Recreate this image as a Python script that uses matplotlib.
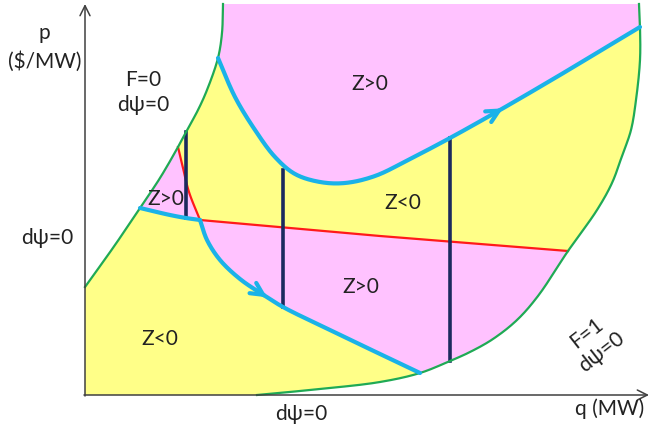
import numpy as np
import matplotlib.pyplot as plt

# boundary curves, in picture units (x right, y down)
green_left = [(223, 4), (222, 33), (218, 58), (207, 90), (198, 110), (186, 132),
              (178, 147), (160, 178), (140, 208), (115, 245), (85, 287)]
green_right = [(639, 4), (640, 27), (640, 60), (636, 100), (631, 130), (622, 156),
               (612, 183), (597, 210), (568, 251), (538, 296), (517, 320), (493, 339),
               (470, 352), (450, 361), (420, 373), (380, 382), (320, 389), (257, 395)]
cyan_upper = [(218, 58), (235, 97), (255, 130), (275, 157), (295, 174), (320, 182),
              (345, 183), (375, 176), (410, 159), (450, 138), (500, 110), (560, 75),
              (600, 51), (640, 27)]
cyan_lower_a = [(140, 208), (170, 215), (186, 218), (200, 220)]
cyan_lower_b = [(200, 220), (207, 240), (220, 260), (240, 279), (262, 294), (283, 307),
                (330, 330), (380, 354), (420, 373)]
red_curve = [(178, 147), (183, 168), (189, 192), (200, 220)]
red_line = [(200, 220), (380, 236), (568, 251)]
navy_x = [186, 283, 450]
navy_top = [132, 170, 138]
navy_bottom = [218, 307, 361]

labels = [
    ("p", 44, 33), ("($/MW)", 45, 62), ("F=0", 143, 80), ("dψ=0", 143, 105),
    ("Z>0", 370, 84), ("Z>0", 166, 199), ("Z<0", 403, 203), ("dψ=0", 47, 238),
    ("Z>0", 361, 287), ("Z<0", 160, 339), ("dψ=0", 301, 414), ("q (MW)", 610, 409),
]

PINK = '#ffc2ff'
YELLOW = '#ffff88'
GREEN = '#1faa55'
CYAN = '#1ab2e8'
NAVY = '#1b2a5e'
RED = '#ff1a1a'
N = 20


def smooth(pts, n=N):
    # centripetal Catmull-Rom; control point k lands at index k*n
    p = np.asarray(pts, float)
    ext = np.vstack([2 * p[0] - p[1], p, 2 * p[-1] - p[-2]])
    out = []
    for i in range(1, len(ext) - 2):
        P0, P1, P2, P3 = ext[i - 1], ext[i], ext[i + 1], ext[i + 2]
        t0 = 0.0
        t1 = t0 + np.linalg.norm(P1 - P0) ** 0.5
        t2 = t1 + np.linalg.norm(P2 - P1) ** 0.5
        t3 = t2 + np.linalg.norm(P3 - P2) ** 0.5
        t = np.linspace(t1, t2, n, endpoint=False)[:, None]
        A1 = (t1 - t) / (t1 - t0) * P0 + (t - t0) / (t1 - t0) * P1
        A2 = (t2 - t) / (t2 - t1) * P1 + (t - t1) / (t2 - t1) * P2
        A3 = (t3 - t) / (t3 - t2) * P2 + (t - t2) / (t3 - t2) * P3
        B1 = (t2 - t) / (t2 - t0) * A1 + (t - t0) / (t2 - t0) * A2
        B2 = (t3 - t) / (t3 - t1) * A2 + (t - t1) / (t3 - t1) * A3
        out.append((t2 - t) / (t2 - t1) * B1 + (t - t1) / (t2 - t1) * B2)
    out.append(p[-1:])
    return np.vstack(out)


gl = smooth(green_left)
gr = smooth(green_right)
cu = smooth(cyan_upper)
ca = smooth(cyan_lower_a)
cb = smooth(cyan_lower_b)
rc = smooth(red_curve)
rl = np.asarray(red_line, float)

fig = plt.figure(figsize=(6.49, 4.30), dpi=100)
ax = fig.add_axes([0, 0, 1, 1])
ax.set_xlim(0, 649)
ax.set_ylim(430, 0)
ax.axis('off')

# regions (junctions: left 2/6/8, right 1/8/14)
top_pink = np.vstack([gl[:2 * N + 1], cu, gr[N::-1]])
mid_yellow = np.vstack([cu, gr[N:8 * N + 1], rl[::-1], rc[::-1], gl[6 * N:2 * N - 1:-1]])
mid_pink = np.vstack([rl, gr[8 * N:14 * N + 1], cb[::-1]])
small_pink = np.vstack([gl[6 * N:8 * N + 1], ca, rc[::-1]])
low_yellow = np.vstack([gl[8 * N:], [(85, 395)], gr[:14 * N - 1:-1], cb[::-1], ca[::-1]])

for poly, col in [(top_pink, PINK), (mid_yellow, YELLOW), (mid_pink, PINK),
                  (small_pink, PINK), (low_yellow, YELLOW)]:
    ax.fill(poly[:, 0], poly[:, 1], color=col, lw=0, zorder=1)

ax.plot(rc[:, 0], rc[:, 1], color=RED, lw=1.6, zorder=2)
ax.plot(rl[:, 0], rl[:, 1], color=RED, lw=1.6, zorder=2)

for x, y0, y1 in zip(navy_x, navy_top, navy_bottom):
    ax.plot([x, x], [y0, y1], color=NAVY, lw=2.6, zorder=3)

ax.plot(gl[:, 0], gl[:, 1], color=GREEN, lw=1.6, zorder=4)
ax.plot(gr[:, 0], gr[:, 1], color=GREEN, lw=1.6, zorder=4)

for c in (cu, ca, cb):
    ax.plot(c[:, 0], c[:, 1], color=CYAN, lw=3, zorder=5, solid_capstyle='round')

# direction arrows on the cyan paths
for c, (tx, ty) in [(cu, (503, 108)), (cb, (268, 296))]:
    i = np.argmin(np.hypot(c[:, 0] - tx, c[:, 1] - ty))
    ax.annotate('', xy=c[i], xytext=c[i - 4],
                arrowprops=dict(arrowstyle='->', color=CYAN, lw=3, mutation_scale=22,
                                shrinkA=0, shrinkB=0), zorder=6)

# axes
axis_col = '#404040'
ax.annotate('', xy=(85, 4), xytext=(85, 396),
            arrowprops=dict(arrowstyle='->', color=axis_col, lw=1.1, mutation_scale=18,
                            shrinkA=0, shrinkB=0), zorder=7)
ax.annotate('', xy=(649, 395), xytext=(84, 395),
            arrowprops=dict(arrowstyle='->', color=axis_col, lw=1.1, mutation_scale=18,
                            shrinkA=0, shrinkB=0), zorder=7)

font = dict(family=['Lato', 'DejaVu Sans'], fontsize=15, color='#222222',
            ha='center', va='center', zorder=8)
for s, x, y in labels:
    ax.text(x, y, s, **font)
ax.text(594, 343, "F=1\ndψ=0", rotation=38, rotation_mode='anchor',
        multialignment='center', linespacing=1.25, **font)

fig.savefig('out.png', dpi=100)
